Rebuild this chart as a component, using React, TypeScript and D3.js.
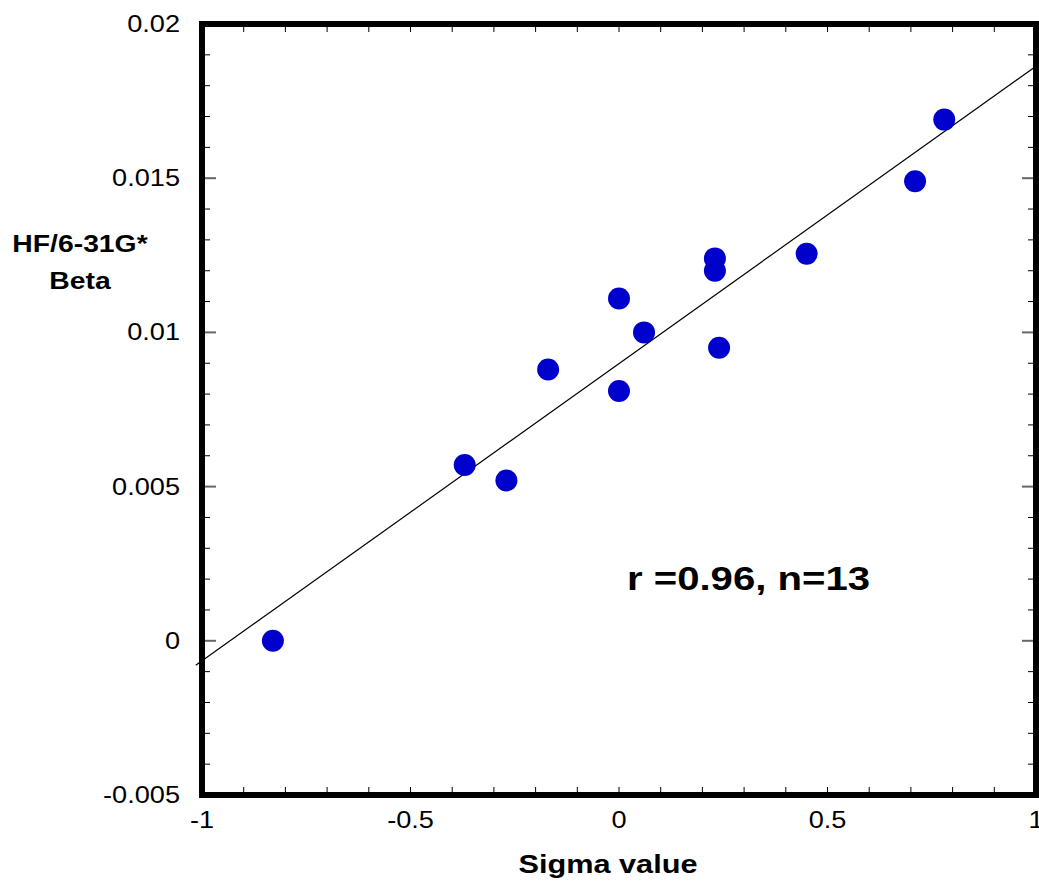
import React from "react";
import * as d3 from "d3";

const width = 1039;
const height = 883;

// sigma values and HF/6-31G* beta values
const sigma = [-0.83, -0.37, -0.27, -0.17, 0, 0, 0.06, 0.23, 0.23, 0.24, 0.45, 0.71, 0.78];
const beta = [0.0, 0.0057, 0.0052, 0.0088, 0.0081, 0.0111, 0.01, 0.0124, 0.012, 0.0095, 0.01255, 0.0149, 0.0169];

const xTicks = [-1, -0.5, 0, 0.5, 1];
const yTicks = [-0.005, 0, 0.005, 0.01, 0.015, 0.02];
const fitSlope = 0.00964;
const fitIntercept = 0.00899;

const xScale = d3.scaleLinear().domain([-1, 1]).range([202, 1036]);
const yScale = d3.scaleLinear().domain([-0.005, 0.02]).range([795, 24]);

const font = "Arial, 'Liberation Sans', sans-serif";
const stretch = 1.18; // the source picture is a bit wider than tall

function Txt({ x, y, size, anchor = "start", bold = false, children }: any) {
  return (
    <text
      transform={`translate(${x},${y}) scale(${stretch},1)`}
      textAnchor={anchor}
      fontFamily={font}
      fontSize={size}
      fontWeight={bold ? "bold" : "normal"}
    >
      {children}
    </text>
  );
}

export default function App() {
  const xMinor = d3.range(-10, 11).map(i => i / 10);
  const yMinor = d3.range(-5, 21).map(i => i / 1000);
  const x1 = xScale.domain()[1];
  const y0 = yScale.range()[0];
  const y1 = yScale.range()[1];
  const xl = xScale.range()[0];
  const xr = xScale.range()[1];
  const lx0 = -1.015;

  return (
    <svg width={width} height={height} style={{ position: "absolute", left: 0, top: 0 }}>
      <rect width={width} height={height} fill="#fff" />
      {/* minor ticks */}
      {xMinor.map((v, i) => (
        <g key={"xm" + i} stroke="#000" strokeWidth={1}>
          <line x1={xScale(v)} x2={xScale(v)} y1={y0} y2={y0 - 8} />
          <line x1={xScale(v)} x2={xScale(v)} y1={y1} y2={y1 + 8} />
        </g>
      ))}
      {yMinor.map((v, i) => {
        const major = Math.abs(Math.round(v * 1000) % 5) === 0;
        const len = major ? 14 : 8;
        return (
          <g key={"ym" + i} stroke={major ? "#666" : "#000"} strokeWidth={major ? 2 : 1}>
            <line x1={xl} x2={xl + len} y1={yScale(v)} y2={yScale(v)} />
            <line x1={xr} x2={xr - len} y1={yScale(v)} y2={yScale(v)} />
          </g>
        );
      })}
      {/* regression line */}
      <line
        x1={xScale(lx0)}
        y1={yScale(fitIntercept + fitSlope * lx0)}
        x2={xScale(x1)}
        y2={yScale(fitIntercept + fitSlope * x1)}
        stroke="#000"
        strokeWidth={1.2}
      />
      {/* frame */}
      <rect x={xl} y={y1} width={xr - xl} height={y0 - y1} fill="none" stroke="#000" strokeWidth={6} />
      {/* points */}
      {sigma.map((s, i) => (
        <circle key={i} cx={xScale(s)} cy={yScale(beta[i])} r={11} fill="#0000CC" />
      ))}
      {/* tick labels */}
      {xTicks.map(v => (
        <Txt key={"xt" + v} x={xScale(v)} y={828} size={23} anchor="middle">
          {v}
        </Txt>
      ))}
      {yTicks.map(v => (
        <Txt key={"yt" + v} x={180} y={yScale(v) + 8} size={23} anchor="end">
          {v}
        </Txt>
      ))}
      <Txt x={608} y={873} size={26} anchor="middle" bold>
        Sigma value
      </Txt>
      <Txt x={80} y={252} size={24} anchor="middle" bold>
        HF/6-31G*
      </Txt>
      <Txt x={80} y={289} size={24} anchor="middle" bold>
        Beta
      </Txt>
      <Txt x={627} y={590} size={34} bold>
        r =0.96, n=13
      </Txt>
    </svg>
  );
}
